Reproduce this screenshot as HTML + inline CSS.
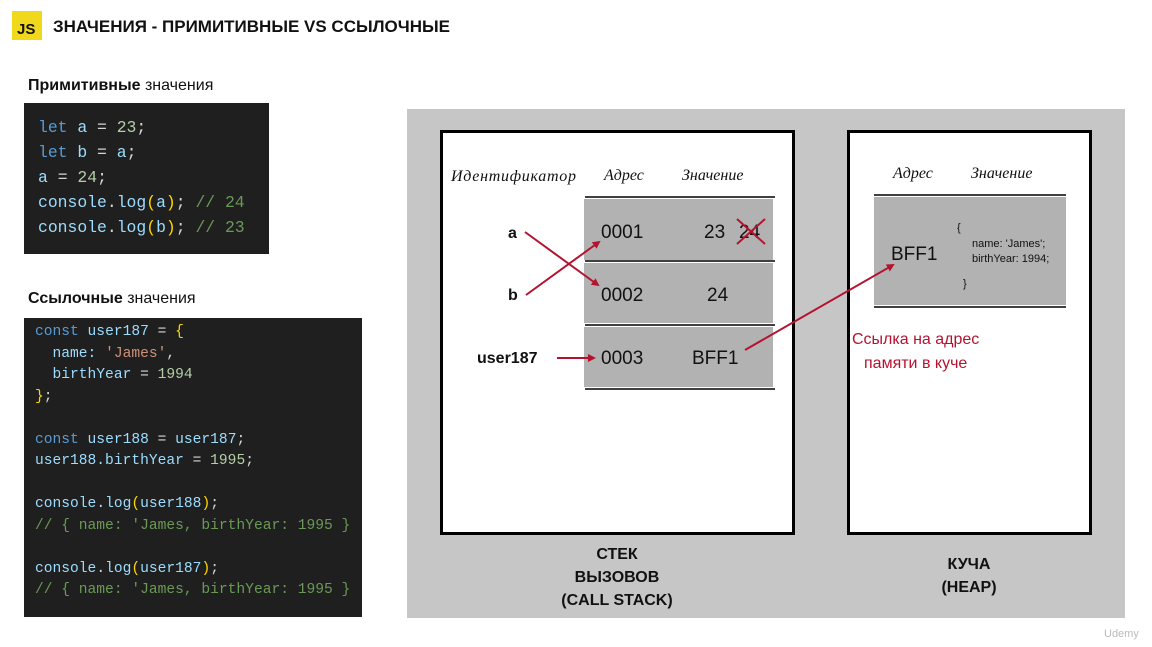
<!DOCTYPE html>
<html><head><meta charset="utf-8"><style>
body{margin:0;width:1152px;height:647px;background:#fff;position:relative;overflow:hidden;font-family:"Liberation Sans",sans-serif}
.abs{position:absolute}
.code{background:#1f1f1f;font-family:"Liberation Mono","DejaVu Sans Mono",monospace;font-size:16px;color:#9cdcfe;white-space:pre}
.k{color:#569cd6}.n{color:#b5cea8}.c{color:#6a9955}.y{color:#ffd700}.s{color:#ce9178}.w{color:#d4d4d4}
</style></head><body>
<div class="abs" style="left:12px;top:11px;width:30px;height:29px;background:#f0d81c;"></div>
<div class="abs" style="left:17px;top:21px;font-weight:bold;font-size:15px;color:#111">JS</div>
<div class="abs" style="left:53px;top:17px;font-weight:bold;font-size:17px;color:#111">ЗНАЧЕНИЯ - ПРИМИТИВНЫЕ VS ССЫЛОЧНЫЕ</div>
<div class="abs" style="left:28px;top:77px;font-size:16px;color:#111"><b>Примитивные</b> значения</div>
<div class="abs code" style="left:24px;top:103px;width:245px;height:151px;line-height:25px;font-size:16.4px"><div style="padding:12px 0 0 14px"><span class="k">let</span> a <span class="w">=</span> <span class="n">23</span><span class="w">;</span>
<span class="k">let</span> b <span class="w">=</span> a<span class="w">;</span>
a <span class="w">=</span> <span class="n">24</span><span class="w">;</span>
console<span class="w">.</span>log<span class="y">(</span>a<span class="y">)</span><span class="w">;</span> <span class="c">// 24</span>
console<span class="w">.</span>log<span class="y">(</span>b<span class="y">)</span><span class="w">;</span> <span class="c">// 23</span></div></div>
<div class="abs" style="left:28px;top:290px;font-size:16px;color:#111"><b>Ссылочные</b> значения</div>
<div class="abs code" style="left:24px;top:318px;width:338px;height:299px;font-size:14.6px;line-height:21.5px"><div style="padding:4px 0 0 11px"><span class="k">const</span> user187 <span class="w">=</span> <span class="y">{</span>
  name: <span class="s">'James'</span><span class="w">,</span>
  birthYear <span class="w">=</span> <span class="n">1994</span>
<span class="y">}</span><span class="w">;</span>

<span class="k">const</span> user188 <span class="w">=</span> user187<span class="w">;</span>
user188.birthYear <span class="w">=</span> <span class="n">1995</span><span class="w">;</span>

console<span class="w">.</span>log<span class="y">(</span>user188<span class="y">)</span><span class="w">;</span>
<span class="c">// { name: 'James, birthYear: 1995 }</span>

console<span class="w">.</span>log<span class="y">(</span>user187<span class="y">)</span><span class="w">;</span>
<span class="c">// { name: 'James, birthYear: 1995 }</span></div></div>

<svg class="abs" style="left:0;top:0" width="1152" height="647">
<defs><marker id="ar" markerWidth="8" markerHeight="8" refX="6" refY="4" orient="auto" markerUnits="userSpaceOnUse"><path d="M0,0 L8,4 L0,8 z" fill="#b5122f"/></marker></defs>
<rect x="407" y="109" width="718" height="509" fill="#c6c6c6"/>
<rect x="441.5" y="131.5" width="352" height="402" fill="#fff" stroke="#000" stroke-width="3"/>
<rect x="848.5" y="131.5" width="242" height="402" fill="#fff" stroke="#000" stroke-width="3"/>
<g font-family="Liberation Serif,serif" font-style="italic" font-size="16" fill="#111">
<text x="451" y="181" textLength="125">Идентификатор</text><text x="604" y="180">Адрес</text><text x="682" y="180">Значение</text>
<text x="893" y="178">Адрес</text><text x="971" y="178">Значение</text></g>
<rect x="584" y="199" width="189" height="61" fill="#b2b2b2"/>
<rect x="584" y="263" width="189" height="60" fill="#b2b2b2"/>
<rect x="584" y="327" width="189" height="60" fill="#b2b2b2"/>
<g stroke="#000" stroke-width="1.5"><line x1="585" y1="197" x2="775" y2="197"/><line x1="585" y1="261" x2="775" y2="261"/><line x1="585" y1="325" x2="775" y2="325"/><line x1="585" y1="389" x2="775" y2="389"/>
<line x1="874" y1="195" x2="1066" y2="195"/><line x1="874" y1="307" x2="1066" y2="307"/></g>
<rect x="874" y="197" width="192" height="108" fill="#b2b2b2"/>
<g font-size="19" fill="#111"><text x="601" y="238">0001</text><text x="704" y="238">23</text><text x="739" y="238">24</text>
<text x="601" y="301">0002</text><text x="707" y="301">24</text><text x="601" y="364">0003</text><text x="692" y="364">BFF1</text>
<text x="891" y="260">BFF1</text></g>
<g font-size="11" fill="#111"><text x="957" y="231">{</text><text x="972" y="247">name: 'James';</text><text x="972" y="262">birthYear: 1994;</text><text x="963" y="287">}</text></g>
<g font-weight="bold" font-size="16" fill="#111"><text x="508" y="238">a</text><text x="508" y="300">b</text><text x="477" y="363">user187</text></g>
<g stroke="#b5122f" stroke-width="2"><line x1="737" y1="219" x2="765" y2="244"/><line x1="765" y1="219" x2="737" y2="244"/>
<line x1="525" y1="232" x2="598" y2="285" marker-end="url(#ar)"/><line x1="526" y1="295" x2="599" y2="242" marker-end="url(#ar)"/>
<line x1="557" y1="358" x2="594" y2="358" marker-end="url(#ar)"/><line x1="745" y1="350" x2="893" y2="265" marker-end="url(#ar)"/></g>
<g fill="#b5122f" font-size="16"><text x="852" y="344">Ссылка на адрес</text><text x="864" y="368">памяти в куче</text></g>
<g font-weight="bold" font-size="16" fill="#111" text-anchor="middle"><text x="617" y="559">СТЕК</text><text x="617" y="582">ВЫЗОВОВ</text><text x="617" y="605">(CALL STACK)</text>
<text x="969" y="569">КУЧА</text><text x="969" y="592">(HEAP)</text></g>
<text x="1104" y="637" font-size="11" fill="#bbb">Udemy</text>
</svg>
</body></html>
